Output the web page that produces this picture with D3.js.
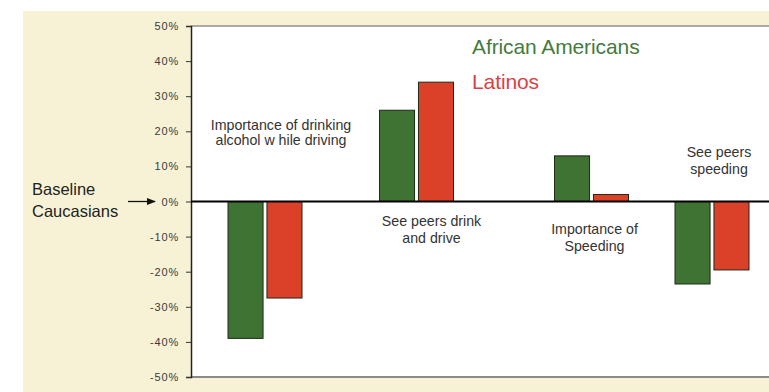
<!DOCTYPE html>
<html>
<head>
<meta charset="utf-8">
<script src="https://cdn.jsdelivr.net/npm/d3@7"></script>
<style>
  html, body { margin: 0; padding: 0; background: #ffffff; }
  svg { display: block; font-family: "Liberation Sans", Arial, Helvetica, sans-serif; }
</style>
</head>
<body>
<svg id="chart" width="769" height="392"></svg>
<script>
// ---- data ----
const categories = [
  "Importance of drinking alcohol while driving",
  "See peers drink and drive",
  "Importance of Speeding",
  "See peers speeding"
];
const categoryLines = [
  ["Importance of drinking", "alcohol w hile driving"],
  ["See peers drink", "and drive"],
  ["Importance of", "Speeding"],
  ["See peers", "speeding"]
];
const seriesNames = ["African Americans", "Latinos"];
const africanAmericans = [-0.39, 0.26, 0.13, -0.235];
const latinos = [-0.275, 0.34, 0.02, -0.195];
const yTicks = [0.5, 0.4, 0.3, 0.2, 0.1, 0, -0.1, -0.2, -0.3, -0.4, -0.5];
const baselineLabel = ["Baseline", "Caucasians"];

// ---- layout ----
const W = 769, H = 392;
const plot = { left: 191, right: 775, top: 26, bottom: 377 };
const colors = ["#3e7334", "#db4128"];
const legendColors = ["#467a3e", "#d84343"];

const svg = d3.select("#chart");

// backgrounds
svg.append("rect").attr("x", 0).attr("y", 0).attr("width", W).attr("height", H).attr("fill", "#ffffff");
svg.append("rect").attr("x", 23).attr("y", 11).attr("width", W - 23).attr("height", H - 11).attr("fill", "#f7f2d6");
svg.append("rect").attr("x", plot.left).attr("y", plot.top)
  .attr("width", plot.right - plot.left).attr("height", plot.bottom - plot.top).attr("fill", "#ffffff");

const y = d3.scaleLinear().domain([-0.5, 0.5]).range([plot.bottom, plot.top]);
// group centres (the source chart spaces its groups unevenly)
const xGroup = d3.scaleOrdinal().domain(categories).range([265, 416.5, 591.5, 712]);
const xSub = d3.scaleBand().domain(seriesNames).range([-37, 37]).paddingInner(0.1);

// plot frame top/bottom
svg.append("line").attr("x1", plot.left).attr("x2", W).attr("y1", plot.top).attr("y2", plot.top)
  .attr("stroke", "#8f8f8f").attr("stroke-width", 1.5);
svg.append("line").attr("x1", plot.left).attr("x2", W).attr("y1", plot.bottom).attr("y2", plot.bottom)
  .attr("stroke", "#8a8a8a").attr("stroke-width", 2);

// y axis
const yAxis = d3.axisLeft(y).tickValues(yTicks).tickSize(5).tickPadding(7)
  .tickFormat(d => Math.round(d * 100) + "%");
const gy = svg.append("g").attr("transform", `translate(${plot.left},0)`).call(yAxis);
gy.select(".domain").attr("stroke", "#222").attr("stroke-width", 1.5);
gy.selectAll(".tick line").attr("stroke", "#333");
gy.selectAll(".tick text").attr("fill", "#3a3a3a").style("font-size", "11px")
  .style("letter-spacing", "0.8px");

// bars
const series = [africanAmericans, latinos];
series.forEach((vals, si) => {
  svg.append("g").selectAll("rect").data(categories).join("rect")
    .attr("x", (c) => xGroup(c) + xSub(seriesNames[si]))
    .attr("width", xSub.bandwidth())
    .attr("y", (c, i) => y(Math.max(0, vals[i])))
    .attr("height", (c, i) => Math.abs(y(vals[i]) - y(0)))
    .attr("fill", colors[si])
    .attr("stroke", "#1d2a18")
    .attr("stroke-width", 1);
});

// zero line
svg.append("line").attr("x1", plot.left).attr("x2", W).attr("y1", y(0)).attr("y2", y(0))
  .attr("stroke", "#000").attr("stroke-width", 2);

// category labels (above for negative bars, below for positive bars)
const labelDy = [-72, 24, 32, -45];
const labelDx = [16, 15, 3, 7];
const lineGap = [15, 17, 17, 17];
categories.forEach((c, i) => {
  const t = svg.append("text")
    .attr("x", xGroup(c) + labelDx[i])
    .attr("y", y(0) + labelDy[i])
    .attr("text-anchor", "middle")
    .attr("fill", "#333")
    .style("font-size", "14.2px");
  categoryLines[i].forEach((ln, k) => {
    t.append("tspan").attr("x", t.attr("x")).attr("dy", k === 0 ? 0 : lineGap[i]).text(ln);
  });
});

// legend
seriesNames.forEach((s, i) => {
  svg.append("text").attr("x", 472).attr("y", 54 + i * 35)
    .attr("fill", legendColors[i]).style("font-size", "21px")
    .style("letter-spacing", "-0.1px").text(s);
});

// baseline annotation
svg.append("text").attr("x", 32).attr("y", 195).attr("fill", "#222")
  .style("font-size", "16.5px").text(baselineLabel[0]);
svg.append("text").attr("x", 32).attr("y", 217).attr("fill", "#222")
  .style("font-size", "16.5px").text(baselineLabel[1]);
svg.append("defs").append("marker").attr("id", "arrow")
  .attr("viewBox", "0 0 10 10").attr("refX", 9).attr("refY", 5)
  .attr("markerWidth", 7).attr("markerHeight", 7).attr("orient", "auto")
  .append("path").attr("d", "M0,1 L10,5 L0,9 z").attr("fill", "#111");
svg.append("line").attr("x1", 128).attr("x2", 155).attr("y1", y(0)).attr("y2", y(0))
  .attr("stroke", "#111").attr("stroke-width", 1.3).attr("marker-end", "url(#arrow)");
</script>
</body>
</html>
